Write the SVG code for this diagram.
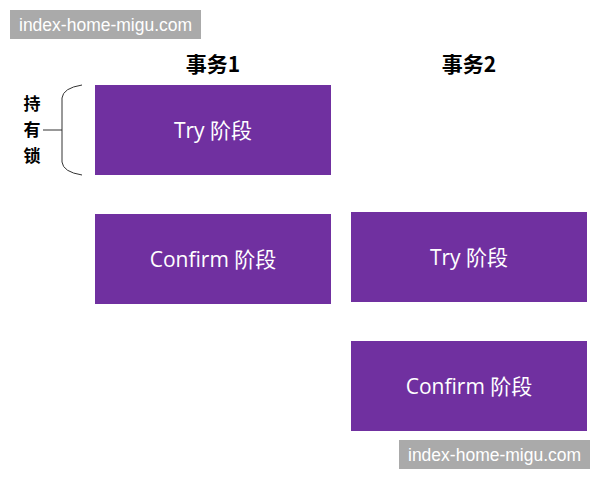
<svg xmlns="http://www.w3.org/2000/svg" width="600" height="480" viewBox="0 0 600 480">
<style>
.box{fill:#7030A0;}
.lbl{fill:#fff;font-family:"Open Sans","Noto Sans CJK SC",sans-serif;font-size:21px;text-anchor:middle;dominant-baseline:central;}
.hd{fill:#000;font-family:"Noto Sans CJK SC",sans-serif;font-size:21px;font-weight:bold;text-anchor:middle;}
.lk{fill:#000;font-family:"Noto Sans CJK SC",sans-serif;font-size:17px;font-weight:bold;text-anchor:middle;}
.wm{fill:#aaaaaa;}
.wmt{fill:#fff;font-family:"Liberation Sans",sans-serif;font-size:17.5px;}
</style>
<rect width="600" height="480" fill="#fff"/>
<g id="wm1"><rect class="wm" x="10" y="10" width="191" height="29"/><text class="wmt" x="19" y="31">index-home-migu.com</text></g>
<g id="wm2"><rect class="wm" x="399" y="440" width="191" height="29"/><text class="wmt" x="408" y="461">index-home-migu.com</text></g>
<text class="hd" x="213" y="72">事务1</text>
<text class="hd" x="469" y="72">事务2</text>
<g id="lock">
<text class="lk" x="32" y="110">持</text>
<text class="lk" x="32" y="136">有</text>
<text class="lk" x="32" y="162">锁</text>
<path d="M82,85 Q63,88 62,98 L62,162 Q63,172 82,175" fill="none" stroke="#333" stroke-width="1"/>
<line x1="43" y1="130" x2="62" y2="130" stroke="#333" stroke-width="1"/>
</g>
<g id="t1try"><rect class="box" x="95" y="85" width="236" height="90"/><text class="lbl" x="213" y="130">Try 阶段</text></g>
<g id="t1confirm"><rect class="box" x="95" y="214" width="236" height="90"/><text class="lbl" x="213" y="259">Confirm 阶段</text></g>
<g id="t2try"><rect class="box" x="351" y="212" width="236" height="90"/><text class="lbl" x="469" y="257">Try 阶段</text></g>
<g id="t2confirm"><rect class="box" x="351" y="341" width="236" height="90"/><text class="lbl" x="469" y="386">Confirm 阶段</text></g>
<g id="connectors"></g>
</svg>
